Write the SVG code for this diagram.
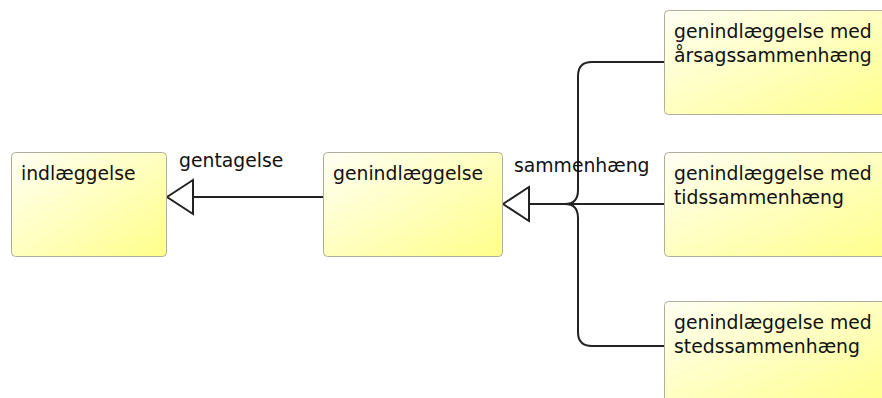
<svg xmlns="http://www.w3.org/2000/svg" width="882" height="398" viewBox="0 0 882 398">
  <style>
    .box { fill: url(#yellowFade); stroke: #aeae9e; stroke-width: 1; }
    .lbl { font-family: "DejaVu Sans", Verdana, sans-serif; font-size: 18.8px; fill: #111; }
    .wire { fill: none; stroke: #222; stroke-width: 2; }
    .head { fill: #fff; stroke: #222; stroke-width: 2; stroke-linejoin: miter; }
  </style>
  <defs>
    <linearGradient id="yellowFade" x1="0" y1="0" x2="1" y2="1">
      <stop offset="0" stop-color="#fffff4"/>
      <stop offset="1" stop-color="#ffff8a"/>
    </linearGradient>
  </defs>
  <rect width="882" height="398" fill="#fff"/>

  <g id="connectors">
    <!-- generalisation: genindlæggelse -> indlæggelse -->
    <line class="wire" x1="193" y1="197" x2="323" y2="197"/>
    <polygon class="head" points="167,197 193,180 193,214"/>
    <text class="lbl" x="179" y="167">gentagelse</text>

    <!-- generalisation tree: three specialisations -> genindlæggelse -->
    <line class="wire" x1="529" y1="204" x2="664" y2="204"/>
    <path class="wire" d="M664,62 H592 Q578,62 578,76 V190 Q578,204 565,204 Q578,204 578,218 V332 Q578,346 592,346 H664"/>
    <polygon class="head" points="503,204 529,187 529,221"/>
    <text class="lbl" x="514" y="172">sammenhæng</text>
  </g>

  <g id="indlaeggelse">
    <rect class="box" x="11.5" y="152.5" width="155" height="104" rx="4"/>
    <text class="lbl" x="21" y="180">indlæggelse</text>
  </g>

  <g id="genindlaeggelse">
    <rect class="box" x="323.5" y="152.5" width="179" height="104" rx="4"/>
    <text class="lbl" x="333" y="180">genindlæggelse</text>
  </g>

  <g id="aarsagssammenhaeng">
    <rect class="box" x="664.5" y="10.5" width="230" height="104" rx="4"/>
    <text class="lbl" x="674" y="38">genindlæggelse med</text>
    <text class="lbl" x="674" y="61.5">årsagssammenhæng</text>
  </g>

  <g id="tidssammenhaeng">
    <rect class="box" x="664.5" y="152.5" width="230" height="104" rx="4"/>
    <text class="lbl" x="674" y="180">genindlæggelse med</text>
    <text class="lbl" x="674" y="203.5">tidssammenhæng</text>
  </g>

  <g id="stedssammenhaeng">
    <rect class="box" x="664.5" y="301.5" width="230" height="104" rx="4"/>
    <text class="lbl" x="674" y="329">genindlæggelse med</text>
    <text class="lbl" x="674" y="352.5">stedssammenhæng</text>
  </g>
</svg>
